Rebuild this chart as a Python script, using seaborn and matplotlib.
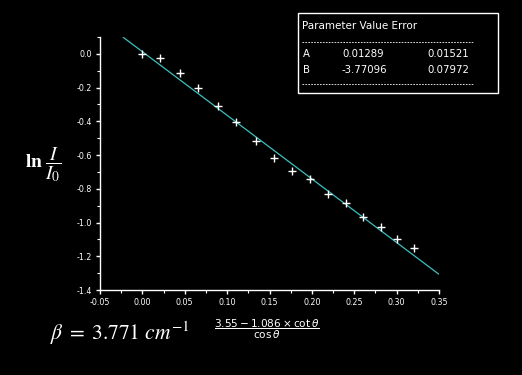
import numpy as np
import pandas as pd
import matplotlib
matplotlib.use("Agg")
import matplotlib.pyplot as plt
import seaborn as sns
from matplotlib.ticker import MultipleLocator
from matplotlib.lines import Line2D
from matplotlib.patches import Rectangle

# ---- data ----
x_vals = [0.000, 0.021, 0.044, 0.066, 0.089, 0.111, 0.134, 0.155,
          0.177, 0.198, 0.219, 0.240, 0.260, 0.281, 0.301, 0.321]
y_vals = [0.000, -0.024, -0.115, -0.204, -0.312, -0.405, -0.518, -0.617,
          -0.696, -0.743, -0.830, -0.886, -0.967, -1.026, -1.099, -1.149]
param_names = ["A", "B"]
param_values = [0.01289, -3.77096]
param_errors = [0.01521, 0.07972]
fit_x_range = [-0.0225, 0.35]
x_ticks = [-0.05, 0.00, 0.05, 0.10, 0.15, 0.20, 0.25, 0.30, 0.35]
y_ticks = [-1.4, -1.2, -1.0, -0.8, -0.6, -0.4, -0.2, 0.0]

df = pd.DataFrame({"x": x_vals, "y": y_vals})
fit_df = pd.DataFrame({"x": fit_x_range,
                       "y": [param_values[0] + param_values[1] * v for v in fit_x_range]})

sns.set_theme(style="ticks")
plt.rcParams["font.family"] = ["DejaVu Sans"]

W, H = 522, 375
fig = plt.figure(figsize=(W / 100, H / 100), dpi=100, facecolor="black")
ax = fig.add_axes([100 / W, 1 - 290 / H, (439 - 100) / W, (290 - 37) / H])
ax.set_facecolor("black")

sns.lineplot(data=fit_df, x="x", y="y", ax=ax, color="#3cc0c0", linewidth=0.9)
sns.scatterplot(data=df, x="x", y="y", ax=ax, marker="+", s=40, color="white",
                linewidth=1.0, zorder=3)

ax.set_xlim(-0.05, 0.35)
ax.set_ylim(-1.4, 0.1)
ax.set_xticks(x_ticks)
ax.set_yticks(y_ticks)
ax.set_xticklabels([f"{t:.2f}" for t in x_ticks])
ax.set_yticklabels([f"{t:.1f}" for t in y_ticks])
ax.xaxis.set_minor_locator(MultipleLocator(0.025))
ax.yaxis.set_minor_locator(MultipleLocator(0.1))
ax.set_xlabel("")
ax.set_ylabel("")
for s in ["top", "right"]:
    ax.spines[s].set_visible(False)
for s in ["left", "bottom"]:
    ax.spines[s].set_color("white")
    ax.spines[s].set_linewidth(1.0)
ax.tick_params(which="major", colors="white", labelsize=5.7, length=3, width=1,
               direction="out", pad=3)
ax.tick_params(which="minor", colors="white", length=2, width=0.8, direction="out")

# y label
fig.text(25 / W, 1 - 168 / H, r"$\mathbf{ln}\;\dfrac{I}{I_0}$", color="white",
         fontsize=14, ha="left", va="baseline", math_fontfamily="stix")

# x label
fig.text(267 / W, 1 - 329 / H, r"$\dfrac{3.55-1.086\times\cot\theta}{\cos\theta}$",
         color="white", fontsize=7.6, ha="center", va="center",
         math_fontfamily="dejavusans")

# beta text
fig.text(50 / W, 1 - 340 / H, r"$\beta\;=\;3.771\ cm^{-1}$", color="white",
         fontsize=15.5, ha="left", va="baseline", math_fontfamily="stix")

# parameter table
fig.add_artist(Rectangle((298 / W, 1 - 92.7 / H), 200 / W, 80 / H,
                         transform=fig.transFigure, fill=False,
                         edgecolor="white", linewidth=1.0))
for yy in [41.7, 84.3]:
    fig.add_artist(Line2D([302 / W, 474 / W], [1 - yy / H, 1 - yy / H],
                          transform=fig.transFigure, color="white",
                          linewidth=0.6, linestyle=(0, (2, 1.5))))
fig.text(302.5 / W, 1 - 26 / H, "Parameter Value Error", color="white",
         fontsize=7.5, ha="left", va="center")
for i, name in enumerate(param_names):
    yy = 1 - (54.3 + 15.4 * i) / H
    fig.text(302.5 / W, yy, name, color="white", fontsize=7.3, ha="left", va="center")
    fig.text(342 / W, yy, f"{param_values[i]:.5f}", color="white", fontsize=7.3,
             ha="left", va="center")
    fig.text(427.5 / W, yy, f"{param_errors[i]:.5f}", color="white", fontsize=7.3,
             ha="left", va="center")

fig.savefig("out.png", dpi=100, facecolor="black")
